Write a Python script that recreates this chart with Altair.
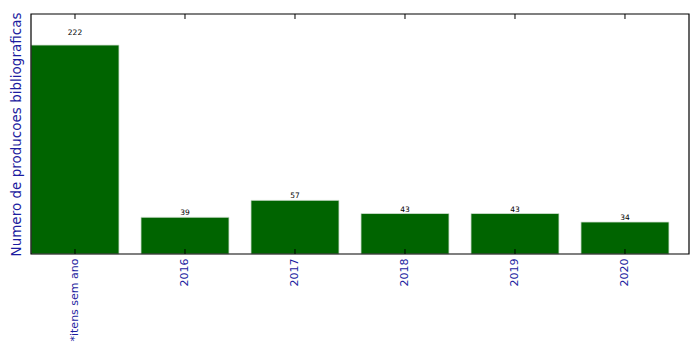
import altair as alt
import pandas as pd

categories = ["*itens sem ano", "2016", "2017", "2018", "2019", "2020"]
values = [222, 39, 57, 43, 43, 34]

df = pd.DataFrame({"cat": categories, "val": values})

W, H = 658, 240
BLUE = "#1c1ca0"
FONT = "DejaVu Sans"

xscale = alt.Scale(paddingInner=0.2, paddingOuter=0.091, align=0)
x = alt.X("cat:N", sort=categories, scale=xscale,
          axis=alt.Axis(title=None, labelAngle=270, labelColor=BLUE, labelFont=FONT,
                        labelFontSize=11, labelPadding=4, ticks=False, domain=False))
yscale = alt.Scale(domain=[0, 255], nice=False)
y = alt.Y("val:Q", scale=yscale,
          axis=alt.Axis(title="Numero de producoes bibliograficas", titleColor=BLUE,
                        titleFont=FONT, titleFontSize=13.5, titleFontWeight="normal",
                        labels=False, ticks=False, grid=False, domain=False, titlePadding=8))

base = alt.Chart(df)
xs = alt.X("cat:N", sort=categories, scale=xscale)

bars = base.mark_bar(color="#006400", stroke="#d4e2d4", strokeWidth=0.8).encode(x=x, y=y)

text = base.transform_calculate(lab_y="datum.val * 1.05").mark_text(
    baseline="bottom", dy=2, fontSize=7.5, font=FONT, color="black").encode(
    x=xs, y=alt.Y("lab_y:Q", scale=yscale), text="val:Q")

tick_bottom = base.mark_rule(color="black", strokeWidth=1).encode(
    x=xs, y=alt.value(H - 5), y2=alt.value(H))
tick_top = base.mark_rule(color="black", strokeWidth=1).encode(
    x=xs, y=alt.value(0), y2=alt.value(5))

frame = alt.Chart(pd.DataFrame({"k": [0]})).mark_rect(
    fill=None, fillOpacity=0, stroke="black", strokeWidth=1.2).encode(
    x=alt.value(0), x2=alt.value(W), y=alt.value(0), y2=alt.value(H))

chart = alt.layer(bars, text, tick_bottom, tick_top, frame).properties(
    width=W, height=H,
    autosize=alt.AutoSizeParams(type="none"),
    padding={"left": 31, "top": 14, "right": 10, "bottom": 100},
    background="white",
).configure_view(stroke=None)

chart.save("out.html", embed_options={"renderer": "svg", "actions": False})
